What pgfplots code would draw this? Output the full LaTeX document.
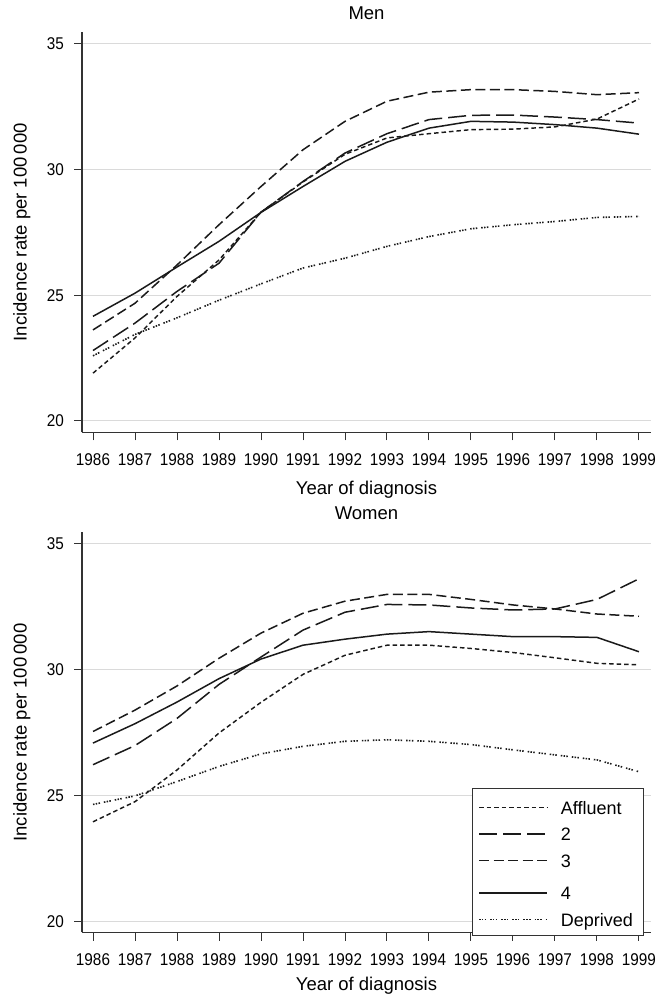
\documentclass[border=0pt]{standalone}
\usepackage{fontspec}
\setmainfont{Liberation Sans}
\newfontfamily\tickfam[FakeStretch=0.9]{Liberation Sans}
\usepackage{pgfplots}
\pgfplotsset{compat=1.18}
\definecolor{axiscol}{HTML}{333333}
\definecolor{gridcol}{HTML}{DADADA}
\definecolor{linecol}{HTML}{1A1A1A}
\newcommand\tickfont{\tickfam\fontsize{17bp}{20bp}\selectfont}
\newcommand\labfont{\fontsize{18.5bp}{22bp}\selectfont}
\newcommand\legfont{\fontsize{18bp}{21bp}\selectfont}
\pgfplotsset{
  myax/.style={
    scale only axis, width=569bp, height=400bp,
    xmin=1985.738, xmax=1999.286, ymin=19.55, ymax=35.45,
    axis lines*=left,
    axis line style={draw=axiscol, line width=1.1bp},
    xtick={1986,1987,1988,1989,1990,1991,1992,1993,1994,1995,1996,1997,1998,1999},
    xticklabels={1986,1987,1988,1989,1990,1991,1992,1993,1994,1995,1996,1997,1998,1999},
    ytick={20,25,30,35}, yticklabels={20,25,30,35},
    tick align=outside, major tick length=8bp,
    tick style={draw=axiscol, line width=1bp},
    ymajorgrids, grid style={draw=gridcol, line width=1bp},
    xticklabel style={font=\tickfont, anchor=base, inner sep=0pt, yshift=-25bp},
    yticklabel style={font=\tickfont, anchor=east, inner sep=0pt, xshift=-10bp},
    xlabel={Year of diagnosis},
    ylabel={Incidence rate per 100\,000},
    ylabel style={font=\labfont, at={(axis description cs:-0.0974,0.5)}, anchor=base},
    title style={font=\labfont, at={(axis description cs:0.5,1)}, anchor=base, yshift=7bp},
    legend image code/.code={\draw[#1] (0bp,6.5bp) -- (68bp,6.5bp);},
  },
  aff/.style={draw=linecol, line width=1.45bp, dash pattern=on 4.5bp off 3bp},
  two/.style={draw=linecol, line width=1.5bp, dash pattern=on 18bp off 6bp},
  three/.style={draw=linecol, line width=1.5bp, dash pattern=on 10bp off 4.5bp},
  four/.style={draw=linecol, line width=1.5bp},
  dep/.style={draw=linecol, line width=1.6bp, dash pattern=on 1.5bp off 1.3bp on 1.5bp off 1.3bp on 1.5bp off 4bp},
}
\begin{document}
\begin{tikzpicture}
\useasboundingbox (0,0) rectangle (659bp,996bp);
% Men
\begin{axis}[myax, at={(82bp,563.7bp)}, title={Men},
  xlabel style={font=\labfont, at={(axis description cs:0.5,0)}, anchor=base, yshift=-62bp}]
\addplot[aff] coordinates {(1986,21.9) (1987,23.3) (1988,24.95) (1989,26.4) (1990,28.3) (1991,29.5) (1992,30.6) (1993,31.25) (1994,31.42) (1995,31.58) (1996,31.6) (1997,31.69) (1998,32.0) (1999,32.8)};
\addplot[two] coordinates {(1986,22.8) (1987,23.89) (1988,25.15) (1989,26.27) (1990,28.3) (1991,29.52) (1992,30.65) (1993,31.42) (1994,31.98) (1995,32.15) (1996,32.16) (1997,32.08) (1998,31.98) (1999,31.84)};
\addplot[three] coordinates {(1986,23.62) (1987,24.68) (1988,26.2) (1989,27.8) (1990,29.32) (1991,30.78) (1992,31.91) (1993,32.71) (1994,33.07) (1995,33.17) (1996,33.17) (1997,33.1) (1998,32.97) (1999,33.05)};
\addplot[four] coordinates {(1986,24.16) (1987,25.08) (1988,26.12) (1989,27.14) (1990,28.29) (1991,29.32) (1992,30.32) (1993,31.08) (1994,31.64) (1995,31.91) (1996,31.88) (1997,31.78) (1998,31.64) (1999,31.4)};
\addplot[dep] coordinates {(1986,22.59) (1987,23.44) (1988,24.1) (1989,24.8) (1990,25.45) (1991,26.08) (1992,26.47) (1993,26.94) (1994,27.33) (1995,27.64) (1996,27.8) (1997,27.93) (1998,28.09) (1999,28.13)};
\end{axis}
% Women
\begin{axis}[myax, at={(82bp,63.5bp)}, title={Women},
  xlabel style={font=\labfont, at={(axis description cs:0.5,0)}, anchor=base, yshift=-58bp},
  legend cell align=left,
  legend style={at={(axis description cs:0.685,0.361)}, anchor=north west,
    draw=axiscol, line width=1bp, inner xsep=6bp, inner ysep=8bp,
    row sep=12bp, column sep=13bp, font=\legfont,
    nodes={inner sep=0pt, anchor=base west}},
]
\addplot[aff] coordinates {(1986,23.95) (1987,24.75) (1988,26.01) (1989,27.48) (1990,28.7) (1991,29.81) (1992,30.57) (1993,30.97) (1994,30.97) (1995,30.84) (1996,30.68) (1997,30.47) (1998,30.25) (1999,30.19)};
\addplot[two] coordinates {(1986,26.22) (1987,26.98) (1988,28.06) (1989,29.41) (1990,30.5) (1991,31.57) (1992,32.28) (1993,32.59) (1994,32.57) (1995,32.45) (1996,32.37) (1997,32.41) (1998,32.79) (1999,33.61)};
\addplot[three] coordinates {(1986,27.54) (1987,28.39) (1988,29.35) (1989,30.45) (1990,31.45) (1991,32.24) (1992,32.72) (1993,32.99) (1994,32.99) (1995,32.79) (1996,32.57) (1997,32.41) (1998,32.21) (1999,32.12)};
\addplot[four] coordinates {(1986,27.08) (1987,27.85) (1988,28.71) (1989,29.64) (1990,30.42) (1991,30.97) (1992,31.21) (1993,31.41) (1994,31.51) (1995,31.41) (1996,31.31) (1997,31.31) (1998,31.28) (1999,30.71)};
\addplot[dep] coordinates {(1986,24.64) (1987,24.98) (1988,25.55) (1989,26.15) (1990,26.65) (1991,26.95) (1992,27.15) (1993,27.21) (1994,27.15) (1995,27.02) (1996,26.81) (1997,26.61) (1998,26.41) (1999,25.94)};
\legend{\raisebox{0pt}[17.5bp][0pt]{Affluent}, \raisebox{0pt}[13bp][0pt]{2}, \raisebox{0pt}[13bp][0pt]{3}, \raisebox{0pt}[19bp][0pt]{4}, \raisebox{0pt}[13bp][0pt]{Deprived\hspace{5bp}}}
\end{axis}
\end{tikzpicture}
\end{document}
